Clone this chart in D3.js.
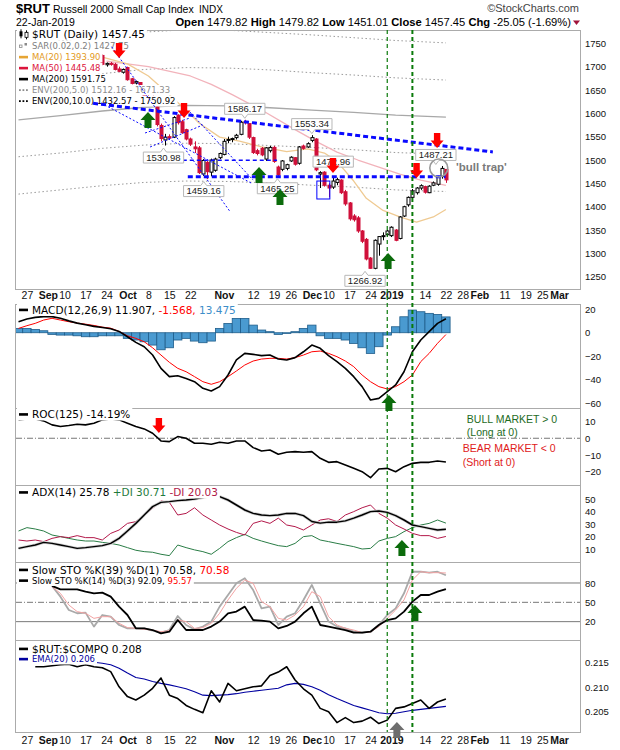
<!DOCTYPE html>
<html>
<head>
<meta charset="utf-8">
<script src="https://d3js.org/d3.v7.min.js"></script>
<style>
  body { margin: 0; background: #fff; }
  text { white-space: pre; }
</style>
</head>
<body>
<div id="chart"></div>
<script>
(function () {
  'use strict';

  //------- trading calendar (category axis)
  var holidays = ['2018-09-03', '2018-11-22', '2018-12-05', '2018-12-25', '2019-01-01', '2019-01-21', '2019-02-18'];

  //------- x axis tick labels
  var tickDates = ['2018-08-27', '2018-09-04', '2018-09-10', '2018-09-17', '2018-09-24', '2018-10-01', '2018-10-08',
    '2018-10-15', '2018-10-22', '2018-11-01', '2018-11-12', '2018-11-19', '2018-11-26', '2018-12-03', '2018-12-10',
    '2018-12-17', '2018-12-24', '2019-01-02', '2019-01-14', '2019-01-22', '2019-01-28', '2019-02-01', '2019-02-11',
    '2019-02-19', '2019-02-25', '2019-03-01'];
  var tickText = ['27', 'Sep', '10', '17', '24', 'Oct', '8', '15', '22', 'Nov', '12', '19', '26', 'Dec', '10', '17', '24',
    '2019', '14', '22', '28', 'Feb', '11', '19', '25', 'Mar'];
  var tickBold = [0, 1, 0, 0, 0, 1, 0, 0, 0, 1, 0, 0, 0, 1, 0, 0, 0, 1, 0, 0, 0, 1, 0, 0, 0, 1];

  var priceTicks = [1250, 1300, 1350, 1400, 1450, 1500, 1550, 1600, 1650, 1700, 1750];
  var macdTicks = [20, 0, -20, -40, -60];
  var rocTicks = [10, 0, -10, -20];
  var adxTicks = [10, 20, 30, 40, 50];
  var stoTicks = [20, 50, 80];
  var ratioTicks = [0.205, 0.210, 0.215];

  //------- daily candles from 2018-09-20
  var candleStart = '2018-09-20';
  var opens = [1716, 1724, 1704, 1707, 1705, 1695, 1688, 1698, 1674, 1665, 1666, 1648, 1636, 1630, 1614, 1574, 1543, 1550,
    1549, 1596, 1582, 1565, 1545, 1528, 1526, 1470, 1495, 1474, 1478, 1505, 1512, 1542, 1544, 1548, 1555, 1582, 1578, 1548,
    1520, 1525, 1502, 1520, 1527, 1485, 1480, 1482, 1498, 1505, 1493, 1530, 1528, 1542, 1545, 1470, 1474, 1446, 1442, 1452,
    1457, 1432, 1408, 1380, 1376, 1348, 1330, 1290, 1268, 1320, 1336, 1340, 1338, 1350, 1332, 1380, 1404, 1420, 1430, 1440,
    1443, 1430, 1446, 1448, 1465, 1479.82];
  var highs = [1726, 1726, 1709, 1710, 1708, 1700, 1696, 1700, 1676, 1670, 1667, 1652, 1642, 1638, 1617, 1578, 1556, 1555,
    1594, 1598, 1586, 1567, 1548, 1540, 1530, 1502, 1498, 1503, 1505, 1516, 1545, 1550, 1548, 1556, 1584, 1586.17, 1579, 1550,
    1524, 1528, 1528, 1530, 1530, 1488, 1500, 1492, 1508, 1506, 1530, 1533, 1538, 1553.34, 1547, 1476, 1476, 1450, 1462, 1462,
    1459, 1436, 1410, 1384, 1380, 1350, 1333, 1292, 1330, 1337, 1345, 1350, 1358, 1352, 1380, 1402, 1422, 1438, 1442, 1448,
    1445, 1446, 1454, 1466, 1487.21, 1479.82];
  var lows = [1714, 1703, 1700, 1702, 1692, 1688, 1685, 1670, 1662, 1662, 1643, 1630, 1622, 1620, 1572, 1540, 1531, 1544,
    1547, 1576, 1556, 1542, 1530, 1515, 1470, 1466, 1459.16, 1465, 1475, 1502, 1510, 1536, 1538, 1544, 1553, 1576, 1545, 1513,
    1510, 1508, 1498, 1516, 1494, 1465.25, 1476, 1478, 1496, 1488, 1490, 1522, 1526, 1538, 1476, 1440, 1443, 1420, 1438, 1446,
    1427, 1402, 1370, 1368, 1344, 1322, 1285, 1266.92, 1266, 1295, 1328, 1336, 1335, 1326, 1330, 1378, 1400, 1418, 1426, 1436,
    1428, 1429, 1444, 1445, 1460, 1451.01];
  var closes = [1724, 1705, 1707, 1705, 1694, 1690, 1694, 1672, 1664, 1668, 1648, 1636, 1632, 1626, 1576, 1546, 1549, 1547,
    1591, 1580, 1559, 1545, 1534, 1524, 1473, 1499, 1475, 1500, 1502, 1514, 1540, 1544, 1546, 1553, 1581, 1580, 1549, 1516,
    1514, 1511, 1526, 1527, 1497, 1468, 1498, 1490, 1506, 1491, 1528, 1525, 1535, 1548, 1479, 1472.96, 1446, 1440, 1455, 1458,
    1430, 1406, 1374, 1372, 1348, 1326, 1288, 1268, 1328, 1336, 1338, 1348, 1356, 1328, 1378, 1400, 1420, 1434, 1440, 1445,
    1431, 1444, 1451, 1463, 1482, 1457.45];

  //------- overlays on the price panel
  var ma20Dates = ['2018-09-19', '2018-10-01', '2018-10-08', '2018-10-15', '2018-10-22', '2018-10-24', '2018-10-31',
    '2018-11-07', '2018-11-14', '2018-11-23', '2018-11-30', '2018-12-07', '2018-12-12', '2018-12-18', '2018-12-21',
    '2018-12-28', '2019-01-04', '2019-01-10', '2019-01-16', '2019-01-22'];
  var ma20 = [1725, 1706, 1680, 1640, 1598, 1580, 1549, 1540, 1528, 1518, 1524, 1515, 1497, 1455, 1418, 1392, 1378, 1367,
    1378, 1393.90];
  var ma50Dates = ['2018-09-24', '2018-10-08', '2018-10-22', '2018-10-29', '2018-11-05', '2018-11-14', '2018-11-27',
    '2018-12-04', '2018-12-12', '2018-12-19', '2018-12-27', '2019-01-04', '2019-01-11', '2019-01-22'];
  var ma50 = [1712, 1700, 1680, 1662, 1640, 1607, 1565, 1540, 1517, 1500, 1485, 1470, 1457, 1445.48];
  var ma200Dates = ['2018-08-23', '2018-09-07', '2018-09-21', '2018-10-05', '2018-10-19', '2018-11-02', '2018-11-16',
    '2018-12-03', '2018-12-18', '2019-01-03', '2019-01-22'];
  var ma200 = [1586, 1595, 1605, 1613, 1617, 1616, 1612, 1607, 1602, 1596, 1591.75];
  var env5Up = [1665, 1675, 1685, 1694, 1698, 1697, 1693, 1687, 1682, 1676, 1671.33];
  var env5Lo = [1507, 1515, 1525, 1532, 1536, 1535, 1531, 1527, 1522, 1516, 1512.16];
  var env10Up = [1745, 1755, 1766, 1774, 1779, 1778, 1773, 1768, 1762, 1756, 1750.92];
  var env10Lo = [1427, 1436, 1445, 1452, 1455, 1454, 1451, 1446, 1442, 1436, 1432.57];

  //------- indicators, every second trading day from 2018-08-23
  var indStart = '2018-08-23';
  var macd = [9.4, 11.7, 13.1, 13.7, 13.7, 12.3, 10.1, 8.2, 6.8, 5.4, 4.5, 3.4, 1.1, -3.4, -8.2, -11.9, -19, -30.3, -37.4,
    -36.6, -38.9, -41.7, -47.3, -49.6, -45.9, -36, -23.2, -17.6, -18.4, -19.5, -19, -22.4, -23.2, -21.2, -16.2, -10.5, -13.3,
    -19.5, -24.6, -30.3, -37.4, -45.9, -57.3, -55.9, -50.2, -44.5, -33.2, -16.2, -6.2, 0.9, 8, 11.907];
  var signal = [3.7, 6, 8, 10.8, 12.3, 10.8, 9.4, 8.2, 7.3, 6.2, 4.8, 3.9, 1.1, -2.6, -4.8, -7.7, -12.8, -19, -25.2, -30.3,
    -33.2, -37.4, -41.7, -43.9, -41.7, -37.4, -32.6, -27.5, -24.1, -22.4, -21.8, -21.8, -22.4, -21.2, -19, -16.2, -15.6, -17.6,
    -20.4, -24.1, -28.9, -36, -41.7, -45.9, -47.9, -45.9, -41.7, -36, -24.6, -17.6, -9, -1.568];
  var hist = [3.7, 3.7, 2.8, 1.7, -1.4, -2, -2, -2.6, -3.4, -3.4, -2.6, -2.6, -2.6, -4.8, -6.2, -7.7, -10.5, -14.5, -12.8,
    -6.2, -4.8, -7.1, -8.5, -7.1, 3.7, 7.9, 12.2, 12.2, 6.5, 2.3, 0.9, -1.4, -0.6, 0.9, 3.7, 6.5, -2.6, -4.8, -4.8, -6.2, -9.1,
    -12.8, -17.6, -11.9, -2, 5.1, 13.6, 19.3, 17.9, 16.5, 15.6, 13.475];
  var roc = [11, 11.6, 11.6, 10.4, 8, 7, 7.6, 8.4, 8, 9, 11, 11.6, 11, 9, 7, 5.6, 3, -1.6, -2, 1, 0, -3, -3, -3.6, -2.4, -3,
    -1.6, -1.6, -5.6, -7.6, -7, -9.6, -8.4, -8, -8.4, -8, -12, -14.4, -14, -16, -18, -20, -23.6, -18.4, -18, -20, -17, -15,
    -14.4, -14.4, -13.6, -14.19];
  var adx = [10.5, 11.9, 13.2, 15.3, 14.5, 13.2, 11.9, 10.5, 11.1, 11.9, 12.7, 14.5, 18.5, 24.4, 30.5, 37.2, 43.9, 47.3, 47.9,
    48.7, 49.2, 50, 51.1, 52.7, 51.9, 49.2, 45.2, 41.2, 38.5, 37.2, 36.7, 37.2, 38.5, 38.5, 36.7, 32, 30.7, 31.5, 31.5, 32.5,
    34.7, 37.2, 39.9, 40.4, 39.3, 36.7, 33.2, 29.2, 27.9, 26.5, 25.2, 25.78];
  var plusDI = [24.4, 27.1, 26, 24.4, 21.2, 19.9, 18.5, 17.2, 16.4, 16.4, 15.3, 14.5, 13.2, 11.1, 9, 7.9, 7.4, 5.8, 4.7, 13.2,
    11.1, 9.3, 7.9, 5.8, 10.5, 15.9, 19.1, 21.7, 18.5, 16.4, 14.5, 12.7, 11.9, 14.5, 19.9, 20.7, 17.2, 15.9, 14.5, 13.2, 11.9,
    10, 10.5, 16.4, 18.5, 19.9, 23.9, 27.1, 29.2, 30.5, 33.2, 30.71];
  var minusDI = [17.2, 16.4, 17.2, 15.9, 18.5, 19.9, 19.1, 20.7, 19.1, 19.1, 17.2, 22.5, 25.2, 30.5, 31.9, 37.2, 42.5, 48.4,
    47.3, 37.2, 38.5, 43, 37.2, 33.2, 29.2, 26, 23.3, 21.2, 30.5, 32.5, 30.5, 34.7, 29.2, 27.9, 25.2, 29.2, 33.2, 34.2, 32, 37.2,
    39.9, 43, 45.2, 38.5, 34.7, 29.2, 26, 22.5, 20.7, 20.7, 18.5, 20.03];
  var stoK39 = [null, null, null, null, 75.4, 70.2, 70.2, 70.2, 66.5, 63.9, 65, 58.8, 43.3, 30.3, 9.6, 9.6, 7, 1.8, 4.4, 22.5,
    7, 7, 7, 12.3, 20.1, 33, 35.6, 43.3, 22.5, 21.5, 20.1, 9.6, 13.3, 20.1, 33, 43.3, 14.8, 12.3, 9.6, 7, 2.9, 2.9, 4.4, 14.8,
    22.5, 25.1, 35.6, 51.1, 61.4, 61.4, 66.5, 70.58];
  var stoK14 = [null, null, null, null, 75.4, 58.8, 38.1, 33, 34, 12.3, 30.3, 27.7, 14.8, 9.6, 9.6, 9.6, 6, 2.9, 7, 28.7, 14.8,
    8, 12.3, 20.1, 43.3, 61.4, 79.5, 87.3, 69.1, 40.6, 43.3, 14.8, 27.7, 33, 53.7, 76.9, 48.5, 20.1, 12.3, 9.6, 4.4, 2.9, 4.4,
    14.8, 30.3, 40.6, 64, 97.5, 97.5, 96, 97.5, 92.09];
  var stoD3 = [null, null, null, null, 74.3, 63.9, 45.9, 35.6, 33, 25.1, 27.7, 27.7, 17.4, 10.7, 9.6, 8, 7, 4.4, 6, 22.5, 20.1,
    9.6, 10.7, 17.4, 33, 53.7, 71.7, 84.7, 79.5, 51.1, 43.3, 25.1, 22.5, 30.3, 43.3, 66.5, 58.8, 27.7, 14.8, 9.6, 7, 2.9, 3.9,
    12.3, 25.1, 38.1, 53.7, 84.7, 97.5, 96, 96, 95.57];
  var ratio = [null, null, 0.2142, 0.2142, 0.2144, 0.2146, 0.2147, 0.2142, 0.2146, 0.2142, 0.2140, 0.2132, 0.2101, 0.2081,
    0.2074, 0.2084, 0.2098, 0.2119, 0.2084, 0.2077, 0.2063, 0.2055, 0.2048, 0.2093, 0.2070, 0.2108, 0.2093, 0.2097, 0.2101,
    0.2103, 0.2124, 0.2131, 0.2142, 0.2115, 0.2097, 0.2084, 0.2057, 0.2050, 0.2028, 0.2038, 0.2028, 0.2031, 0.2039, 0.2026,
    0.2033, 0.2057, 0.2060, 0.2067, 0.2074, 0.2057, 0.2070, 0.2076];
  var ratioEma = [null, null, null, null, null, null, null, null, null, 0.2151, 0.2149, 0.2146, 0.2139, 0.2129, 0.2120,
    0.2117, 0.2112, 0.2108, 0.2105, 0.2101, 0.2097, 0.2091, 0.2084, 0.2083, 0.2084, 0.2085, 0.2087, 0.2090, 0.2092, 0.2094,
    0.2096, 0.2098, 0.2105, 0.2108, 0.2106, 0.2101, 0.2094, 0.2085, 0.2077, 0.2070, 0.2063, 0.2058, 0.2053, 0.2048, 0.2046,
    0.2047, 0.2050, 0.2053, 0.2055, 0.2057, 0.2059, 0.2061];

  //------- analyst drawings (x in trading days from 2018-10-01, y in panel units)
  var signalDates = ['2018-12-31', '2019-01-09'];
  var trendLines = [
    [-8.2, 1621.5, 87.2, 1517.3, 'thick'], [14.4, 1464.3, 75.9, 1464.3, 'thick'], [13.2, 1499.6, 35.7, 1499.6, 'mid'],
    [-3.8, 1742.7, 24.5, 1389.3, 'thin'], [-6.3, 1622.1, 29.5, 1450.8, 'thin'], [14.9, 1602.8, 30.0, 1457.0, 'thin'],
    [5.4, 1527.9, 18.0, 1575.0, 'thin'], [4.2, 1557.9, 14.9, 1590.0, 'thin']
  ];
  var priceArrows = [[-2.0, 1718.4, 'down'], [13.5, 1590, 'down'], [49.05, 1472, 'down'], [69.0, 1461.5, 'down'],
    [73.9, 1525.7, 'down'], [4.9, 1602.9, 'up'], [31.4, 1485, 'up'], [36.4, 1437.9, 'up'], [62.2, 1300.8, 'up']];
  var priceLabels = [[28, 1586.17, 'above'], [44, 1553.34, 'above'], [8.6, 1530.98, 'below'], [18.2, 1459.16, 'below'],
    [35.8, 1465.25, 'below'], [49.1, 1472.96, 'above'], [56.7, 1266.92, 'below'], [73.6, 1487.21, 'above']];
  var trapCircle = [74.3, 1483];
  var trapText = [78.4, 1485, "'bull trap'"];
  var gapBox = [45.2, 1455, 48.3, 1416.5];
  var rocNotes = [[81, 11.6, 'BULL MARKET > 0', '#1e6b1e'], [81, 3.8, '(Long at 0)', '#1e6b1e'],
    [80, -5.8, 'BEAR MARKET < 0', '#e0201a'], [80, -14.2, '(Short at 0)', '#e0201a']];

  //------- build calendar
  var fmt = d3.utcFormat('%Y-%m-%d');
  var days = d3.utcDays(new Date(Date.UTC(2018, 7, 20)), new Date(Date.UTC(2019, 2, 15)))
    .filter(function (d) { return d.getUTCDay() !== 0 && d.getUTCDay() !== 6; })
    .map(fmt)
    .filter(function (s) { return holidays.indexOf(s) < 0; });
  var dayZero = days.indexOf('2018-10-01');
  function dayIdx(s) { return days.indexOf(s) - dayZero; }
  function daysFrom(start, n, step) {
    var k = days.indexOf(start), out = [];
    for (var j = 0; j < n; j++) { out.push(days[k + j * step]); }
    return out;
  }
  var candleDates = daysFrom(candleStart, closes.length, 1);
  var indDates = daysFrom(indStart, macd.length, 2);

  var FONT = 'Liberation Sans, Arial, sans-serif';
  var LFONT = 'DejaVu Sans, Verdana, sans-serif';
  var X0 = 16, X1 = 580;
  var x = d3.scaleLinear().domain([-26.6, 108]).range([X0, X1]);

  var panels = {
    price: { top: 30, bottom: 289, dom: [1223.7, 1778.5], ticks: priceTicks, f: d3.format('d') },
    macd: { top: 303.5, bottom: 408, dom: [-64.1, 24.9], ticks: macdTicks, f: d3.format('d') },
    roc: { top: 408, bottom: 485, dom: [-27.96, 18.1], ticks: rocTicks, f: d3.format('d') },
    adx: { top: 485, bottom: 562, dom: [-0.4, 61.2], ticks: adxTicks, f: d3.format('d') },
    sto: { top: 562, bottom: 640, dom: [-8.5, 112.6], ticks: stoTicks, f: d3.format('d') },
    ratio: { top: 640, bottom: 732, dom: [0.200878, 0.219653], ticks: ratioTicks, f: d3.format('.3f') }
  };

  var svg = d3.select('#chart').append('svg')
    .attr('width', 620).attr('height', 750)
    .style('font-family', FONT);
  var defs = svg.append('defs');

  Object.keys(panels).forEach(function (k) {
    var p = panels[k];
    p.y = d3.scaleLinear().domain(p.dom).range([p.bottom, p.top]);
    defs.append('clipPath').attr('id', 'clip-' + k).append('rect')
      .attr('x', X0).attr('y', p.top).attr('width', X1 - X0).attr('height', p.bottom - p.top);
    p.g = svg.append('g').attr('clip-path', 'url(#clip-' + k + ')');

    //----- right axis
    var ax = svg.append('g').attr('transform', 'translate(' + X1 + ',0)')
      .call(d3.axisRight(p.y).tickValues(p.ticks).tickSize(0).tickPadding(5).tickFormat(p.f));
    ax.select('.domain').remove();
    ax.selectAll('text').attr('font-family', FONT).attr('font-size', 9.5).attr('fill', '#111');
  });

  function plotLine(g, dates, vals, y, color, width, dash) {
    var pts = dates.map(function (d, k) { return [x(dayIdx(d)), vals[k]]; });
    var line = d3.line()
      .defined(function (p) { return p[1] !== null; })
      .x(function (p) { return p[0]; })
      .y(function (p) { return y(p[1]); });
    return g.append('path').datum(pts).attr('d', line)
      .attr('fill', 'none').attr('stroke', color).attr('stroke-width', width)
      .attr('stroke-linejoin', 'round').attr('stroke-dasharray', dash || null);
  }

  //------- price panel
  var P = panels.price;
  plotLine(P.g, ma200Dates, env10Up, P.y, '#9a9a9a', 1, '1.5,2.5');
  plotLine(P.g, ma200Dates, env10Lo, P.y, '#9a9a9a', 1, '1.5,2.5');
  plotLine(P.g, ma200Dates, env5Up, P.y, '#9a9a9a', 1, '1.5,2.5');
  plotLine(P.g, ma200Dates, env5Lo, P.y, '#9a9a9a', 1, '1.5,2.5');
  plotLine(P.g, ma200Dates, ma200, P.y, '#a8a8a8', 1.3);
  plotLine(P.g, ma50Dates, ma50, P.y, '#f2b3bb', 1.3);
  plotLine(P.g, ma20Dates, ma20, P.y, '#efca92', 1.3);

  var cg = P.g.append('g');
  candleDates.forEach(function (d, k) {
    var cx = Math.round(x(dayIdx(d))) + 0.5, o = opens[k], c = closes[k];
    var up = c >= o, col = up ? '#000' : '#d0103a';
    cg.append('line').attr('x1', cx).attr('x2', cx)
      .attr('y1', P.y(highs[k])).attr('y2', P.y(lows[k]))
      .attr('stroke', col).attr('stroke-width', 1);
    var top = P.y(Math.max(o, c)), h = Math.max(1, Math.abs(P.y(o) - P.y(c)));
    cg.append('rect').attr('x', cx - 1.5).attr('width', 3).attr('y', top).attr('height', h)
      .attr('fill', up ? '#fff' : col).attr('stroke', col).attr('stroke-width', 1);
  });

  //------- MACD
  var M = panels.macd;
  var bw = (x(1) - x(0)) * 2;
  M.g.selectAll('rect.hist').data(hist).enter().append('rect')
    .attr('x', function (v, k) { return x(dayIdx(indDates[k])) - bw / 2; })
    .attr('width', bw)
    .attr('y', function (v) { return Math.min(M.y(v), M.y(0)); })
    .attr('height', function (v) { return Math.abs(M.y(v) - M.y(0)); })
    .attr('fill', '#4a9ad0').attr('stroke', '#1f5d8a').attr('stroke-width', 0.8);
  plotLine(M.g, indDates, signal, M.y, '#ff0000', 1);
  plotLine(M.g, indDates, macd, M.y, '#000', 1.6);

  //------- ROC
  var R = panels.roc;
  R.g.append('line').attr('x1', X0).attr('x2', X1).attr('y1', R.y(0)).attr('y2', R.y(0))
    .attr('stroke', '#777').attr('stroke-dasharray', '6,2,1,2');
  plotLine(R.g, indDates, roc, R.y, '#000', 1.6);

  //------- ADX
  var A = panels.adx;
  plotLine(A.g, indDates, plusDI, A.y, '#2a7d46', 1);
  plotLine(A.g, indDates, minusDI, A.y, '#b3184a', 1);
  plotLine(A.g, indDates, adx, A.y, '#cfcfcf', 3);
  plotLine(A.g, indDates, adx, A.y, '#000', 1.5);

  //------- Slow stochastics
  var S = panels.sto;
  [80, 20].forEach(function (v) {
    S.g.append('line').attr('x1', X0).attr('x2', X1).attr('y1', S.y(v)).attr('y2', S.y(v))
      .attr('stroke', '#7a7a7a').attr('stroke-width', 1);
  });
  S.g.append('line').attr('x1', X0).attr('x2', X1).attr('y1', S.y(50)).attr('y2', S.y(50))
    .attr('stroke', '#777').attr('stroke-dasharray', '6,2,1,2');
  plotLine(S.g, indDates, stoK14, S.y, '#a9a9a9', 1.8);
  plotLine(S.g, indDates, stoD3, S.y, '#f3a3a3', 1);
  plotLine(S.g, indDates, stoK39, S.y, '#000', 1.8);

  //------- relative ratio
  var Q = panels.ratio;
  plotLine(Q.g, indDates, ratioEma, Q.y, '#0000a0', 1.1);
  plotLine(Q.g, indDates, ratio, Q.y, '#000', 1.6);

  //------- frames
  Object.keys(panels).forEach(function (k) {
    var p = panels[k];
    svg.append('rect').attr('x', X0 - 0.5).attr('y', p.top + 0.5).attr('width', X1 - X0 + 1).attr('height', p.bottom - p.top)
      .attr('fill', 'none').attr('stroke', '#ababab').attr('shape-rendering', 'crispEdges');
  });

  //------- x axes
  function xAxis(ypos, pad) {
    var g = svg.append('g').attr('transform', 'translate(0,' + ypos + ')')
      .call(d3.axisBottom(x).tickValues(tickDates.map(dayIdx)).tickSize(0).tickPadding(pad)
        .tickFormat(function (d, k) { return tickText[k]; }));
    g.select('.domain').remove();
    g.selectAll('text').attr('font-family', FONT).attr('font-size', 10.5).attr('fill', '#111')
      .attr('font-weight', function (d, k) { return tickBold[k] ? 'bold' : 'normal'; });
  }
  xAxis(P.bottom, 3);
  xAxis(Q.bottom, 5);

  //------- legends
  function legendRow(baseline, size, parts, icon, iconColor) {
    var row = svg.append('g');
    var bg = row.append('rect').attr('fill', '#fff');
    var t = row.append('text').attr('x', 32).attr('y', baseline)
      .attr('font-family', LFONT).attr('font-size', size);
    parts.forEach(function (p) { t.append('tspan').attr('fill', p[1]).text(p[0]); });
    var w = t.node().getComputedTextLength();
    bg.attr('x', X0 + 1).attr('y', baseline - size + 0.5).attr('width', w + 17).attr('height', size + 2);
    var cy = baseline - size * 0.35;
    if (icon === 'line') {
      row.append('rect').attr('x', 19).attr('y', cy - 1.2).attr('width', 9).attr('height', 2.6).attr('fill', iconColor);
    } else if (icon === 'dots') {
      [19, 22.5, 26].forEach(function (dx) {
        row.append('rect').attr('x', dx).attr('y', cy - 0.8).attr('width', 1.8).attr('height', 1.8).attr('fill', iconColor);
      });
    } else if (icon === 'sar') {
      row.append('rect').attr('x', 19.5).attr('y', cy - 1).attr('width', 2.5).attr('height', 2.5)
        .attr('fill', '#fff').attr('stroke', iconColor).attr('stroke-width', 0.8);
      row.append('rect').attr('x', 24.5).attr('y', cy - 3).attr('width', 2.5).attr('height', 2.5).attr('fill', iconColor);
    } else if (icon === 'candle') {
      row.append('line').attr('x1', 21).attr('x2', 21).attr('y1', cy - 5).attr('y2', cy + 4).attr('stroke', '#000');
      row.append('rect').attr('x', 19.5).attr('y', cy - 3).attr('width', 3).attr('height', 5).attr('fill', '#000');
      row.append('line').attr('x1', 26.5).attr('x2', 26.5).attr('y1', cy - 4).attr('y2', cy + 5).attr('stroke', '#000');
      row.append('rect').attr('x', 25).attr('y', cy - 2).attr('width', 3).attr('height', 5)
        .attr('fill', '#fff').attr('stroke', '#000').attr('stroke-width', 0.8);
    }
  }

  legendRow(38, 10.5, [['$RUT (Daily) 1457.45', '#000']], 'candle');
  legendRow(49, 8.5, [['SAR(0.02,0.2) 1427.75', '#808080']], 'sar', '#8a8a8a');
  legendRow(60, 8.5, [['MA(20) 1393.90', '#e39a1c']], 'line', '#e6a534');
  legendRow(71, 8.5, [['MA(50) 1445.48', '#dc143c']], 'line', '#dc143c');
  legendRow(82, 8.5, [['MA(200) 1591.75', '#000']], 'line', '#000');
  legendRow(93, 8.5, [['ENV(200,5.0) 1512.16 - 1671.33', '#8c8c8c']], 'dots', '#8c8c8c');
  legendRow(104, 8.5, [['ENV(200,10.0) 1432.57 - 1750.92', '#000']], 'dots', '#000');

  legendRow(313.5, 10.5, [['MACD(12,26,9) 11.907,', '#000'], [' -1.568,', '#ff0000'], [' 13.475', '#3d8ec9']], 'line', '#000');
  legendRow(418, 10.5, [['ROC(125) -14.19%', '#000']], 'line', '#000');
  legendRow(496, 10.5, [['ADX(14) 25.78', '#000'], [' +DI 30.71', '#1e7a3c'], [' -DI 20.03', '#b01848']], 'line', '#000');
  legendRow(573.5, 10.5, [['Slow STO %K(39) %D(1) 70.58,', '#000'], [' 70.58', '#ff0000']], 'line', '#000');
  legendRow(583.5, 8.5, [['Slow STO %K(14) %D(3) 92.09,', '#000'], [' 95.57', '#ff0000']], 'line', '#000');
  legendRow(652.5, 10.5, [['$RUT:$COMPQ 0.208', '#000']], 'line', '#000');
  legendRow(662, 8.5, [['EMA(20) 0.206', '#0000a0']], 'line', '#0000a0');

  //------- annotations
  var ann = svg.append('g');
  var lineStyle = { thick: [3, '5,3'], mid: [1.6, '4,3'], thin: [1, '2,2'] };
  trendLines.forEach(function (t) {
    var st = lineStyle[t[4]];
    ann.append('line').attr('x1', x(t[0])).attr('y1', P.y(t[1])).attr('x2', x(t[2])).attr('y2', P.y(t[3]))
      .attr('stroke', '#0a0aff').attr('stroke-width', st[0]).attr('stroke-dasharray', st[1]);
  });

  ann.append('rect').attr('x', x(gapBox[0])).attr('y', P.y(gapBox[1]))
    .attr('width', x(gapBox[2]) - x(gapBox[0])).attr('height', P.y(gapBox[3]) - P.y(gapBox[1]))
    .attr('fill', 'none').attr('stroke', '#0000ff').attr('stroke-width', 1);

  priceLabels.forEach(function (l) {
    var ax = x(l[0]), ay = P.y(l[1]);
    var cy = l[2] === 'above' ? ay - 11 : ay + 12;
    var t = ann.append('text').attr('x', ax).attr('y', cy + 3.3).attr('text-anchor', 'middle')
      .attr('font-size', 9.5).attr('fill', '#222').text(l[1].toFixed(2));
    var w = t.node().getComputedTextLength() + 6;
    var lft = ax - w / 2, rgt = ax + w / 2, tp = cy - 5.5, bt = cy + 5.5, d;
    if (l[2] === 'above') {
      d = 'M' + lft + ',' + tp + 'L' + rgt + ',' + tp + 'L' + rgt + ',' + bt + 'L' + (ax + 3) + ',' + bt +
        'L' + ax + ',' + (bt + 4) + 'L' + (ax - 3) + ',' + bt + 'L' + lft + ',' + bt + 'Z';
    } else {
      d = 'M' + lft + ',' + tp + 'L' + (ax - 3) + ',' + tp + 'L' + ax + ',' + (tp - 4) + 'L' + (ax + 3) + ',' + tp +
        'L' + rgt + ',' + tp + 'L' + rgt + ',' + bt + 'L' + lft + ',' + bt + 'Z';
    }
    ann.insert('path', function () { return t.node(); }).attr('d', d)
      .attr('fill', '#fff').attr('stroke', '#b8b8b8').attr('stroke-width', 1);
  });

  ann.append('circle').attr('cx', x(trapCircle[0])).attr('cy', P.y(trapCircle[1])).attr('r', 9)
    .attr('fill', 'none').attr('stroke', '#9a9a9a').attr('stroke-width', 1.6);
  ann.append('text').attr('x', x(trapText[0])).attr('y', P.y(trapText[1]) + 4)
    .attr('font-size', 11.5).attr('font-weight', 'bold').attr('fill', '#7a7a7a').text(trapText[2]);

  rocNotes.forEach(function (n) {
    ann.append('text').attr('x', x(n[0])).attr('y', R.y(n[1]) + 4)
      .attr('font-size', 10.5).attr('fill', n[3]).text(n[2]);
  });

  //----- signal day verticals
  signalDates.forEach(function (d, k) {
    var vx = x(dayIdx(d));
    ann.append('line').attr('x1', vx).attr('x2', vx).attr('y1', P.top).attr('y2', Q.bottom)
      .attr('stroke', '#0a7a0a').attr('stroke-width', k ? 2 : 1.2).attr('stroke-dasharray', '4,3');
  });

  function arrow(cx, ty, dir, color, big) {
    var s = dir === 'up' ? 1 : -1, hw = big ? 7.5 : 6.5, sw = big ? 3.5 : 3.2, hh = big ? 8 : 7.5, len = big ? 16 : 15;
    var pts = [[0, 0], [hw, hh], [sw, hh], [sw, len], [-sw, len], [-sw, hh], [-hw, hh]];
    ann.append('path')
      .attr('d', 'M' + pts.map(function (p) { return (cx + p[0]) + ',' + (ty + s * p[1]); }).join('L') + 'Z')
      .attr('fill', color);
  }
  priceArrows.forEach(function (a) {
    arrow(x(a[0]), P.y(a[1]), a[2], a[2] === 'up' ? '#0b6b0b' : '#ff0000', a[2] === 'up');
  });
  arrow(x(62.4), M.y(-53), 'up', '#0b6b0b', true);
  arrow(x(7.5), R.y(3.2), 'down', '#ff0000', false);
  arrow(x(65.5), A.y(17.2), 'up', '#0b6b0b', true);
  arrow(x(68.6), S.y(45.8), 'up', '#0b6b0b', true);
  arrow(x(64.3), Q.y(0.20292), 'up', '#6e6e6e', true);

  //------- header
  var hd = svg.append('g').attr('fill', '#000');
  hd.append('text').attr('x', 16).attr('y', 12.5).attr('font-size', 13).attr('font-weight', 'bold').text('$RUT');
  hd.append('text').attr('x', 53).attr('y', 12.5).attr('font-size', 10.5).text('Russell 2000 Small Cap Index');
  hd.append('text').attr('x', 199).attr('y', 12.5).attr('font-size', 10).text('INDX');
  hd.append('text').attr('x', 579).attr('y', 12).attr('text-anchor', 'end').attr('font-size', 11)
    .attr('fill', '#444').text('\u00a9StockCharts.com');
  hd.append('text').attr('x', 16).attr('y', 26).attr('font-size', 10.5).text('22-Jan-2019');
  var ohlc = hd.append('text').attr('x', 571).attr('y', 26).attr('text-anchor', 'end').attr('font-size', 11.2);
  [['Open', 1], [' 1479.82 ', 0], ['High', 1], [' 1479.82 ', 0], ['Low', 1], [' 1451.01 ', 0], ['Close', 1],
    [' 1457.45 ', 0], ['Chg', 1], [' -25.05 (-1.69%)', 0]].forEach(function (p) {
    ohlc.append('tspan').attr('font-weight', p[1] ? 'bold' : 'normal').text(p[0]);
  });
  hd.append('path').attr('d', 'M573,20.5L580,20.5L576.5,25Z').attr('fill', '#a0143c');
})();
</script>
</body>
</html>
